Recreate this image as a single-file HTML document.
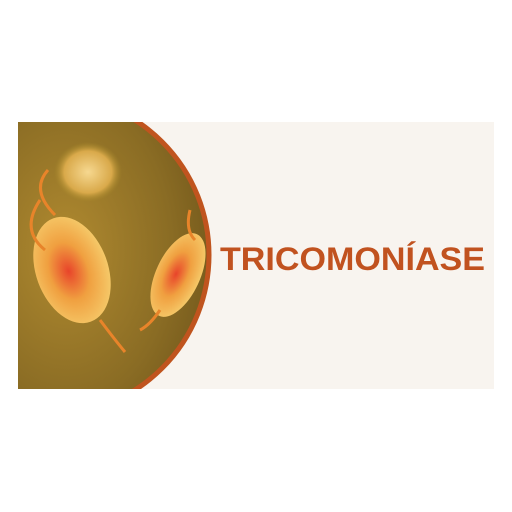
<!DOCTYPE html>
<html><head><meta charset="utf-8"><style>
html,body{margin:0;padding:0;background:#fff;width:512px;height:512px;overflow:hidden}
</style></head><body>
<svg width="512" height="512" viewBox="0 0 512 512">
<defs>
<clipPath id="c"><rect x="18" y="122" width="476" height="267"/></clipPath>
<clipPath id="circ"><circle cx="49" cy="255" r="160"/></clipPath>
<radialGradient id="bg" cx="0.3" cy="0.5" r="0.8">
<stop offset="0" stop-color="#b08a30"/><stop offset="0.6" stop-color="#8a6c24"/><stop offset="1" stop-color="#6a5018"/>
</radialGradient>
<radialGradient id="cell" cx="0.45" cy="0.5" r="0.6">
<stop offset="0" stop-color="#e8442a"/><stop offset="0.45" stop-color="#f0a040"/><stop offset="1" stop-color="#f6d070"/>
</radialGradient>
<radialGradient id="blur" cx="0.5" cy="0.5" r="0.5">
<stop offset="0" stop-color="#f6d890"/><stop offset="0.7" stop-color="#d9a94a"/><stop offset="1" stop-color="#a88a2a" stop-opacity="0"/>
</radialGradient>
</defs>
<g clip-path="url(#c)">
<rect x="18" y="122" width="476" height="267" fill="#f8f4ef"/>
<g clip-path="url(#circ)">
<rect x="0" y="90" width="220" height="320" fill="url(#bg)"/>
<ellipse cx="88" cy="172" rx="34" ry="30" fill="url(#blur)"/>
<ellipse cx="72" cy="270" rx="36" ry="55" fill="url(#cell)" transform="rotate(-20 72 270)"/>
<ellipse cx="178" cy="275" rx="22" ry="45" fill="url(#cell)" transform="rotate(25 178 275)"/>
<path d="M40 200 Q20 230 45 250 M55 215 Q30 190 48 170 M100 320 Q115 340 125 352" stroke="#e8842a" stroke-width="3" fill="none"/>
<path d="M190 210 Q185 230 195 240 M160 310 Q150 325 140 330" stroke="#e8842a" stroke-width="3" fill="none"/>
</g>
<circle cx="49" cy="255" r="160" fill="none" stroke="#c0541e" stroke-width="5"/>
</g>
<text x="220" y="270" font-family="Liberation Sans, sans-serif" font-weight="bold" font-size="32.5" fill="#c1521f" textLength="265" lengthAdjust="spacingAndGlyphs">TRICOMONÍASE</text>
</svg>
</body></html>
